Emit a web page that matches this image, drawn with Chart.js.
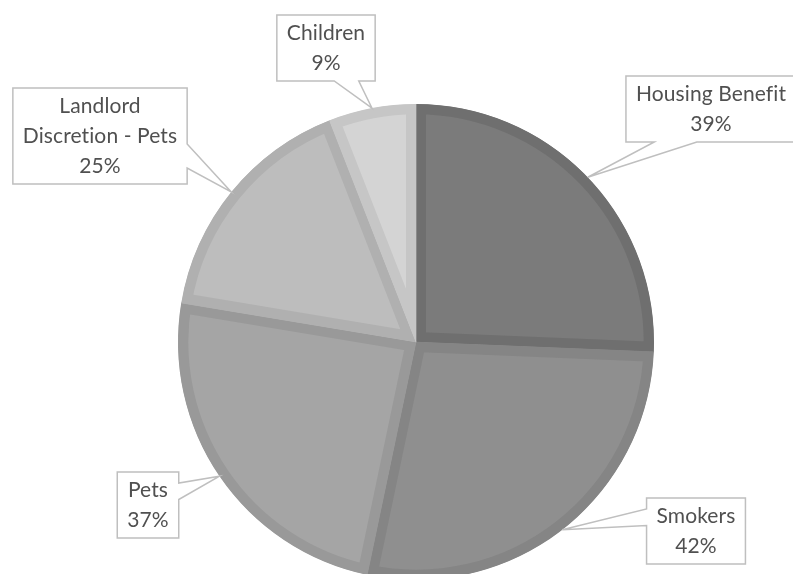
<!DOCTYPE html>
<html lang="en">
<head>
<meta charset="UTF-8">
<title>Pie chart</title>
<style>
  html, body { margin: 0; padding: 0; background: #fff; overflow: hidden; }
  .frame { width: 793px; height: 574px; overflow: hidden; }
</style>
</head>
<body>
<div class="frame">
  <canvas id="myChart" width="793" height="700"></canvas>
</div>
<script src="https://cdn.jsdelivr.net/npm/chart.js@4/dist/chart.umd.min.js"></script>
<script>
var categories = ['Housing Benefit', 'Smokers', 'Pets', 'Landlord Discretion - Pets', 'Children'];
var values = [39, 42, 37, 25, 9];
var fillColors = ['#7b7b7b', '#8f8f8f', '#a5a5a5', '#bdbdbd', '#d4d4d4'];
var borderColors = ['#6f6f6f', '#858585', '#999999', '#b0b0b0', '#c6c6c6'];

// centre of each callout box, px
var calloutCenters = [[711, 109], [696, 531], [148, 505], [100, 136], [326, 48]];

var LABEL_FONT = '21px Lato';
var LINE_H = 30;

function wrapText(ctx, text, maxW) {
    var words = text.split(' ');
    var lines = [];
    var cur = '';
    words.forEach(function (w) {
        var test = cur ? cur + ' ' + w : w;
        if (cur && ctx.measureText(test).width > maxW) {
            lines.push(cur);
            cur = w;
        } else {
            cur = test;
        }
    });
    if (cur) lines.push(cur);
    return lines;
}

var calloutPlugin = {
    id: 'callouts',
    afterDatasetsDraw: function (chart) {
        var ctx = chart.ctx;
        var arcs = chart.getDatasetMeta(0).data;
        ctx.save();
        ctx.font = LABEL_FONT;
        // non-zero spacing keeps Lato from joining "ti" / "fi"
        ctx.letterSpacing = '0.1px';
        arcs.forEach(function (arc, i) {
            var mid = (arc.startAngle + arc.endAngle) / 2;
            var tipX = arc.x + Math.cos(mid) * arc.outerRadius;
            var tipY = arc.y + Math.sin(mid) * arc.outerRadius;

            var lines = wrapText(ctx, categories[i], 165).concat([values[i] + '%']);
            var textW = 0;
            lines.forEach(function (l) { textW = Math.max(textW, ctx.measureText(l).width); });
            var w = textW + 20;
            var h = lines.length * LINE_H + 6;
            var cx = calloutCenters[i][0];
            var cy = calloutCenters[i][1];
            var left = cx - w / 2, top = cy - h / 2, right = cx + w / 2, bottom = cy + h / 2;

            var nx = (tipX - cx) / (w / 2);
            var ny = (tipY - cy) / (h / 2);
            var side;
            if (Math.abs(nx) > Math.abs(ny)) side = nx > 0 ? 'right' : 'left';
            else side = ny > 0 ? 'bottom' : 'top';

            var f1, f2;
            var ahead = (side === 'top' || side === 'bottom') ? tipX > cx : tipY > cy;
            if (ahead) { f1 = 7 / 12; f2 = 5 / 6; } else { f1 = 1 / 6; f2 = 5 / 12; }

            var pts = [[left, top]];
            if (side === 'top') pts.push([left + f1 * w, top], [tipX, tipY], [left + f2 * w, top]);
            pts.push([right, top]);
            if (side === 'right') pts.push([right, top + f1 * h], [tipX, tipY], [right, top + f2 * h]);
            pts.push([right, bottom]);
            if (side === 'bottom') pts.push([left + f2 * w, bottom], [tipX, tipY], [left + f1 * w, bottom]);
            pts.push([left, bottom]);
            if (side === 'left') pts.push([left, top + f2 * h], [tipX, tipY], [left, top + f1 * h]);

            ctx.beginPath();
            pts.forEach(function (p, k) {
                if (k === 0) ctx.moveTo(p[0], p[1]); else ctx.lineTo(p[0], p[1]);
            });
            ctx.closePath();
            ctx.fillStyle = '#ffffff';
            ctx.fill();
            ctx.lineWidth = 1.5;
            ctx.strokeStyle = '#bfbfbf';
            ctx.stroke();

            ctx.fillStyle = '#505050';
            ctx.textAlign = 'center';
            ctx.textBaseline = 'middle';
            var y0 = cy - (lines.length - 1) / 2 * LINE_H;
            lines.forEach(function (l, k) {
                ctx.fillText(l, cx, y0 + k * LINE_H);
            });
        });
        ctx.restore();
    }
};

var ctx = document.getElementById('myChart').getContext('2d');
var myPieChart = new Chart(ctx, {
    type: 'pie',
    data: {
        labels: categories,
        datasets: [{
            data: values,
            backgroundColor: fillColors,
            borderColor: borderColors,
            borderWidth: 10,
            borderAlign: 'inner'
        }]
    },
    options: {
        responsive: false,
        animation: false,
        layout: { padding: { top: 104, bottom: 120, left: 178, right: 139 } },
        plugins: {
            legend: { display: false },
            tooltip: { enabled: false }
        }
    },
    plugins: [calloutPlugin]
});
</script>
</body>
</html>
